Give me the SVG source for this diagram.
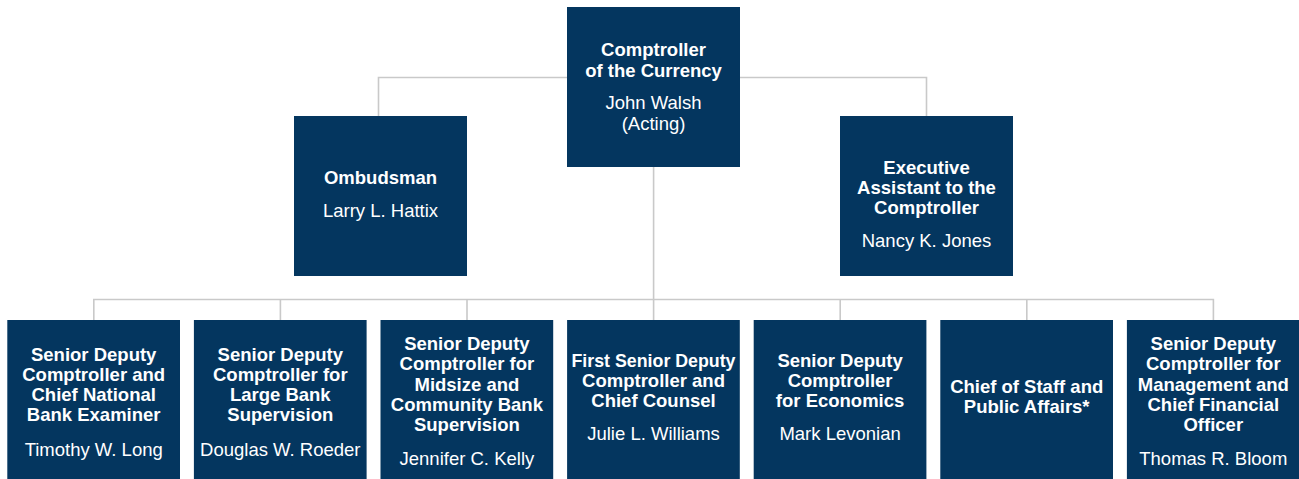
<svg xmlns="http://www.w3.org/2000/svg" width="1299" height="479" viewBox="0 0 1299 479">
  <style>
    .box { fill: #04365f; }
    .link { fill: none; stroke: #c9c9c9; stroke-width: 1.6; }
    text { font-family: "Liberation Sans", Arial, Helvetica, sans-serif; font-size: 18.5px; fill: #ffffff; text-anchor: middle; }
    .title { font-weight: bold; }
    .name { font-weight: normal; }
  </style>
  <rect width="1299" height="479" fill="#ffffff"/>

  <!-- connectors -->
  <g id="connectors">
    <path class="link" d="M378.5 116 V77.5 H926.5 V116"/>
    <path class="link" d="M653.6 167 V299.5"/>
    <path class="link" d="M93.8 320 V299.5 H1213.4 V320"/>
    <path class="link" d="M280.4 299.5 V320 M467 299.5 V320 M653.6 299.5 V320 M840.2 299.5 V320 M1026.8 299.5 V320"/>
  </g>

  <!-- top level -->
  <g id="comptroller">
    <rect class="box" x="567" y="7" width="173" height="160"/>
    <text class="title" x="653.5" y="56">Comptroller</text>
    <text class="title" x="653.5" y="76.5">of the Currency</text>
    <text class="name" x="653.5" y="109">John Walsh</text>
    <text class="name" x="653.5" y="129.5">(Acting)</text>
  </g>

  <g id="ombudsman">
    <rect class="box" x="294" y="116" width="173" height="160"/>
    <text class="title" x="380.5" y="184">Ombudsman</text>
    <text class="name" x="380.5" y="217">Larry L. Hattix</text>
  </g>

  <g id="exec-assistant">
    <rect class="box" x="840" y="116" width="173" height="160"/>
    <text class="title" x="926.5" y="174">Executive</text>
    <text class="title" x="926.5" y="194">Assistant to the</text>
    <text class="title" x="926.5" y="214">Comptroller</text>
    <text class="name" x="926.5" y="246.5">Nancy K. Jones</text>
  </g>

  <!-- senior deputies -->
  <g id="chief-examiner">
    <rect class="box" x="7.3" y="320" width="172.7" height="160"/>
    <text class="title" x="93.7" y="361">Senior Deputy</text>
    <text class="title" x="93.7" y="381">Comptroller and</text>
    <text class="title" x="93.7" y="401">Chief National</text>
    <text class="title" x="93.7" y="421">Bank Examiner</text>
    <text class="name" x="93.7" y="455.5">Timothy W. Long</text>
  </g>

  <g id="large-bank">
    <rect class="box" x="193.9" y="320" width="172.7" height="160"/>
    <text class="title" x="280.3" y="361">Senior Deputy</text>
    <text class="title" x="280.3" y="381">Comptroller for</text>
    <text class="title" x="280.3" y="401">Large Bank</text>
    <text class="title" x="280.3" y="421">Supervision</text>
    <text class="name" x="280.3" y="455.5">Douglas W. Roeder</text>
  </g>

  <g id="midsize-community">
    <rect class="box" x="380.5" y="320" width="172.7" height="160"/>
    <text class="title" x="466.9" y="349.5">Senior Deputy</text>
    <text class="title" x="466.9" y="370">Comptroller for</text>
    <text class="title" x="466.9" y="390.5">Midsize and</text>
    <text class="title" x="466.9" y="410.5">Community Bank</text>
    <text class="title" x="466.9" y="430.5">Supervision</text>
    <text class="name" x="466.9" y="465">Jennifer C. Kelly</text>
  </g>

  <g id="chief-counsel">
    <rect class="box" x="567.1" y="320" width="172.7" height="160"/>
    <text class="title" x="653.5" y="366.5" textLength="164" lengthAdjust="spacingAndGlyphs">First Senior Deputy</text>
    <text class="title" x="653.5" y="386.5">Comptroller and</text>
    <text class="title" x="653.5" y="407">Chief Counsel</text>
    <text class="name" x="653.5" y="440">Julie L. Williams</text>
  </g>

  <g id="economics">
    <rect class="box" x="753.7" y="320" width="172.7" height="160"/>
    <text class="title" x="840.1" y="366.5">Senior Deputy</text>
    <text class="title" x="840.1" y="386.5">Comptroller</text>
    <text class="title" x="840.1" y="407">for Economics</text>
    <text class="name" x="840.1" y="440">Mark Levonian</text>
  </g>

  <g id="chief-of-staff">
    <rect class="box" x="940.3" y="320" width="172.7" height="160"/>
    <text class="title" x="1026.7" y="392.5">Chief of Staff and</text>
    <text class="title" x="1026.7" y="413">Public Affairs*</text>
  </g>

  <g id="management-cfo">
    <rect class="box" x="1126.9" y="320" width="172.7" height="160"/>
    <text class="title" x="1213.3" y="349.5">Senior Deputy</text>
    <text class="title" x="1213.3" y="370">Comptroller for</text>
    <text class="title" x="1213.3" y="390.5">Management and</text>
    <text class="title" x="1213.3" y="410.5">Chief Financial</text>
    <text class="title" x="1213.3" y="430.5">Officer</text>
    <text class="name" x="1213.3" y="464.5">Thomas R. Bloom</text>
  </g>
</svg>
